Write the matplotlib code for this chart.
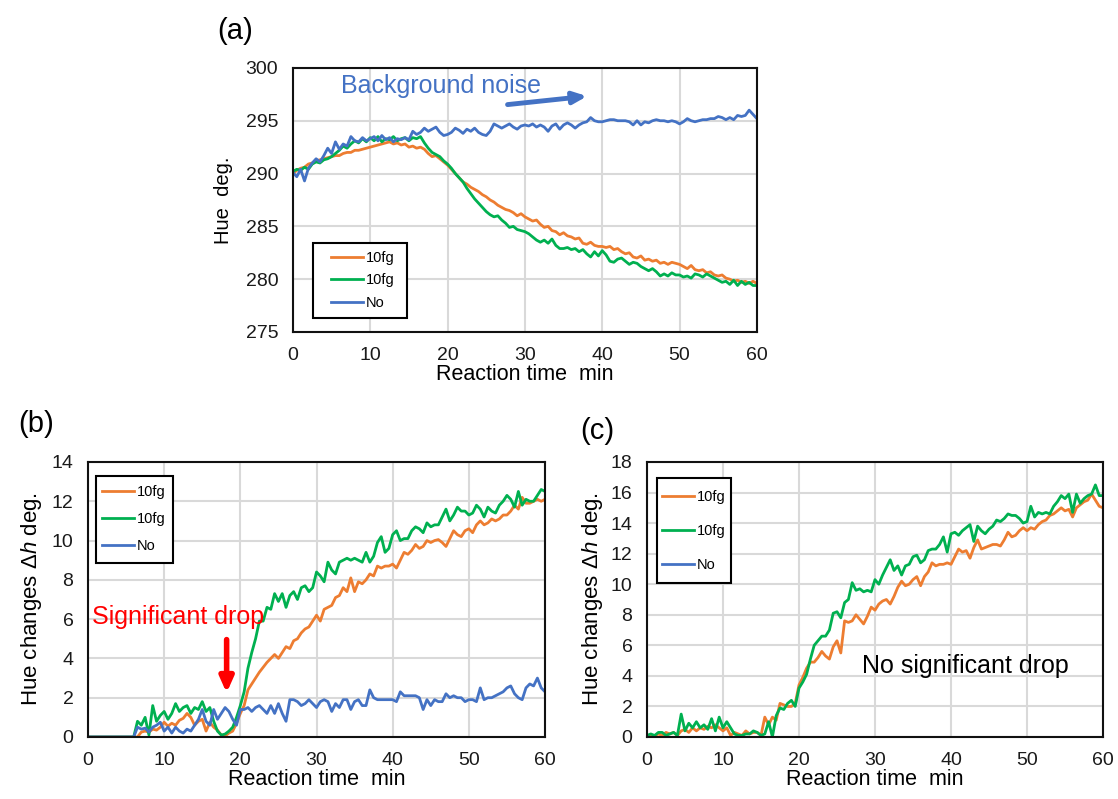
import numpy as np
import matplotlib
matplotlib.use("Agg")
import matplotlib.pyplot as plt
from matplotlib.patches import Rectangle

plt.rcParams['font.family'] = ['Liberation Sans', 'DejaVu Sans']
plt.rcParams['mathtext.fontset'] = 'custom'
plt.rcParams['mathtext.it'] = 'Liberation Sans:italic'
plt.rcParams['mathtext.rm'] = 'Liberation Sans'

t = np.arange(0, 60.5, 0.5)

# (a) raw hue
a_o = [290.0, 290.3, 290.5, 290.6, 290.9, 291.0, 291.2, 291.3, 291.4, 291.5,
       291.6, 291.7, 291.7, 291.9, 292.0, 292.0, 292.2, 292.2, 292.3, 292.4,
       292.5, 292.6, 292.7, 292.8, 292.9, 293.0, 292.8, 292.9, 292.7, 292.8,
       292.5, 292.6, 292.4, 292.5, 292.3, 291.9, 291.6, 291.7, 291.4, 291.1,
       290.8, 290.4, 290.0, 289.6, 289.2, 289.0, 288.7, 288.5, 288.3, 288.0,
       287.8, 287.5, 287.3, 287.0, 286.8, 286.6, 286.5, 286.3, 286.0, 286.2,
       285.9, 285.7, 285.5, 285.6, 285.2, 284.9, 285.0, 284.6, 284.5, 284.2,
       284.4, 284.1, 284.0, 283.8, 283.9, 283.4, 283.3, 283.5, 283.2, 283.1,
       283.1, 283.0, 283.1, 282.8, 282.9, 282.6, 282.4, 282.5, 282.1, 282.0,
       282.2, 281.8, 281.9, 281.7, 281.8, 281.5, 281.6, 281.4, 281.6, 281.5,
       281.4, 281.2, 281.0, 281.3, 280.9, 280.8, 280.9, 280.6, 280.7, 280.4,
       280.3, 280.4, 280.1, 280.0, 279.8, 279.9, 279.7, 279.8, 279.6, 279.8,
       279.6]
a_g = [290.2, 290.4, 290.3, 290.6, 290.4, 290.9, 291.1, 291.0, 291.3, 291.4,
       291.6, 291.9, 292.2, 292.6, 292.4, 292.8, 293.1, 292.9, 293.3, 293.0,
       293.4, 293.1, 293.5, 293.0, 293.3, 293.2, 293.5, 293.1, 293.3, 293.4,
       293.1, 293.4, 293.3, 293.5, 292.9, 292.4, 292.0, 291.8, 291.6, 291.2,
       290.9, 290.5, 290.0, 289.6, 289.2, 288.6, 288.1, 287.6, 287.2, 286.8,
       286.4, 286.1, 285.9, 286.0, 285.6, 285.3, 284.9, 285.0, 284.7, 284.6,
       284.5, 284.3, 284.0, 283.7, 283.5, 283.7, 283.4, 283.8, 283.2, 282.9,
       282.9, 283.0, 282.8, 282.9, 282.6, 282.8, 282.4, 282.1, 282.6, 282.2,
       282.7, 282.3, 281.7, 281.6, 281.9, 282.0, 281.7, 281.4, 281.6, 281.5,
       281.2, 281.0, 280.8, 281.0, 280.7, 280.3, 280.5, 280.3, 280.6, 280.4,
       280.4, 280.2, 280.3, 280.1, 280.5, 280.4, 280.2, 280.5, 280.3, 280.1,
       279.9, 279.7, 279.8, 279.5, 279.9, 279.4, 279.8, 279.5, 279.7, 279.4,
       279.4]
a_b = [290.1, 289.7, 290.4, 289.3, 290.5, 291.0, 291.4, 291.1, 291.7, 292.4,
       291.9, 293.0, 292.3, 292.8, 292.6, 293.5, 293.1, 293.0, 293.4, 293.1,
       293.3, 293.5, 293.1, 293.6, 293.2, 293.4, 293.0, 293.3, 293.2, 293.4,
       293.2, 294.0, 293.7, 293.9, 294.3, 294.0, 294.2, 294.4, 293.9, 293.6,
       293.7, 293.9, 294.3, 294.1, 293.8, 294.2, 294.0, 294.3, 293.9, 293.7,
       293.6, 294.0, 294.7, 294.5, 294.3, 294.5, 294.7, 294.4, 294.2, 294.5,
       294.6, 294.5, 294.7, 294.4, 294.6, 294.4, 294.0, 294.5, 294.7, 294.2,
       294.6, 294.8, 294.6, 294.3, 294.6, 294.8, 294.9, 295.3, 295.0, 294.9,
       294.9, 295.0, 295.1, 295.1, 295.0, 295.0, 295.0, 294.9, 294.6, 295.0,
       294.6, 294.9, 294.8, 295.0, 295.1, 295.0, 295.0, 294.9, 295.0, 294.9,
       294.7, 294.9, 295.2, 295.0, 294.9, 295.0, 295.1, 295.1, 295.2, 295.2,
       295.4, 295.3, 295.1, 295.3, 295.1, 295.5, 295.4, 295.5, 296.0, 295.6,
       295.2]

# (b) hue changes
b_o = [0, 0, 0, 0, 0, 0, 0, 0, 0, 0,
       0, 0, 0, 0, 0.25, 0.3, 0.25, 0.4, 0.35, 0.5,
       0.75, 0.55, 0.7, 0.6, 0.85, 0.95, 1.2, 1.0, 0.6, 0.8,
       0.9, 0.3, 0.75, 0.5, 0.35, 0.1, 0.05, 0.2, 0.3, 0.7,
       1.2, 1.6, 2.4, 2.7, 3.0, 3.3, 3.55, 3.8, 4.0, 4.2,
       4.0, 4.3, 4.6, 4.5, 4.9, 5.0, 5.3, 5.5, 5.6, 5.9,
       6.2, 5.9, 6.5, 6.6, 6.7, 7.1, 7.2, 7.6, 7.4, 8.1,
       7.4, 7.9, 7.8, 8.0, 8.3, 8.2, 8.7, 8.6, 8.7, 8.7,
       8.8, 8.6, 9.0, 9.4, 9.3, 9.5, 9.8, 9.6, 9.7, 10.0,
       9.9, 10.0, 10.05, 9.9, 9.7, 10.1, 10.5, 10.3, 10.2, 10.5,
       10.6, 10.4, 10.8, 11.0, 10.8, 10.9, 11.1, 11.0, 11.1, 11.3,
       11.3, 11.5, 11.8, 11.6, 12.2, 11.9, 11.9, 12.0, 12.1, 12.0,
       12.1]
b_g = [0, 0, 0, 0, 0, 0, 0, 0, 0, 0,
       0, 0, 0, 0.8, 0.6, 1.0, 0.1, 1.6, 0.8, 1.1,
       1.3, 0.9, 1.2, 1.7, 1.3, 1.5, 1.6, 1.2, 1.5, 1.4,
       1.8, 1.3, 1.5, 0.8, 0.3, 0.1, 0.15, 0.3, 0.5, 1.0,
       1.6, 2.3, 3.5, 4.3, 5.0, 5.9, 5.9, 6.6, 6.5, 7.3,
       6.9, 7.3, 6.6, 7.2, 7.4, 7.0, 7.6, 7.7, 7.4, 7.6,
       8.4, 8.2, 7.9, 8.9, 8.5, 8.3, 8.9, 9.0, 9.1, 9.0,
       9.1, 9.0, 8.9, 9.4, 8.9, 9.2, 9.9, 10.2, 9.4, 9.6,
       10.3, 10.5, 10.0, 10.1, 10.1, 10.5, 10.7, 10.6, 10.4, 10.9,
       10.7, 10.8, 10.8, 11.2, 11.6, 11.0, 11.3, 11.7, 11.5, 11.5,
       11.3, 11.4, 11.8, 11.6, 11.2, 11.7, 11.5, 11.4, 11.8, 12.0,
       12.3, 12.1, 11.7, 12.5, 11.8, 12.1, 12.0, 12.0, 12.3, 12.6,
       12.5]
b_b = [0, 0, 0, 0, 0, 0, 0, 0, 0, 0,
       0, 0, 0, 0.5, 0.4, 0.45, 0.25, 0.5, 0.6, 0.75,
       0.3, 0.5, 0.2, 0.5, 0.3, 0.2, 0.4, 0.3, 0.6, 0.9,
       1.4, 0.8, 0.6, 1.4, 0.9, 1.2, 1.5, 1.3, 0.9, 0.6,
       1.4, 1.4, 1.5, 1.3, 1.5, 1.6, 1.4, 1.2, 1.6, 1.2,
       1.7, 1.2, 0.8, 1.9, 1.9, 1.8, 1.6, 1.7, 1.9, 1.7,
       1.5, 1.8, 1.9, 1.8, 1.3, 1.7, 1.5, 1.9, 1.9, 1.4,
       1.8, 1.9, 1.6, 1.6, 2.4, 2.0, 1.9, 1.9, 1.9, 1.9,
       1.9, 1.8, 2.3, 2.1, 2.1, 2.1, 2.1, 2.0, 1.4, 1.9,
       1.6, 1.9, 1.8, 1.8, 2.2, 2.0, 2.1, 2.0, 2.0, 1.8,
       1.9, 1.9, 1.8, 2.5, 1.9, 2.0, 2.0, 2.1, 2.2, 2.3,
       2.5, 2.6, 2.2, 2.0, 1.9, 2.5, 2.7, 2.6, 3.0, 2.5,
       2.3]

# (c) hue changes
c_o = [0.05, 0.1, 0.05, 0.2, 0.1, 0.3, 0.2, 0.3, 0.1, 0.4,
       0.5, 0.3, 0.6, 0.4, 0.6, 0.5, 0.7, 0.6, 0.8, 0.6,
       0.4, 0.6, 0.1, 0.3, 0.2, 0.1, 0.4, 0.2, 0.3, 0.3,
       0.1, 1.3, 0.8, 1.3, 1.1, 2.2, 2.1, 2.0, 2.0, 2.2,
       3.4, 3.9, 4.5, 4.9, 4.9, 5.2, 5.6, 5.3, 5.1, 5.9,
       6.3, 5.5, 7.6, 7.5, 7.6, 8.0, 7.7, 7.4, 7.9, 8.5,
       8.3, 8.7, 8.9, 9.0, 8.7, 9.2, 9.8, 10.2, 9.9, 10.0,
       10.3, 10.5, 9.9, 10.5, 10.8, 11.4, 11.2, 11.3, 11.3, 11.4,
       11.3, 11.8, 12.3, 12.1, 12.2, 11.7, 12.4, 12.9, 12.3, 12.4,
       12.5, 12.6, 12.6, 12.5, 12.9, 13.4, 13.1, 13.2, 13.5, 13.7,
       13.5, 13.7, 13.6, 13.9, 14.1, 14.2, 14.5, 14.6, 14.8, 15.0,
       14.8, 14.9, 14.4, 15.0, 15.2, 15.4, 15.5, 15.9, 15.5, 15.1,
       15.0]
c_g = [0.1, 0.2, 0.1, 0.3, 0.3, 0.1, 0.2, 0.3, 0.1, 1.5,
       0.4, 0.9, 0.6, 1.0, 0.6, 0.8, 0.5, 1.2, 0.4, 1.3,
       0.6, 1.0, 0.6, 0.2, 0.1, 0.1, 0.2, 0.2, 0.4, 0.3,
       0.1, 0.2, 1.0, 0.0, 1.4, 1.9, 1.8, 2.2, 2.4, 2.0,
       3.2, 3.6, 4.1, 5.1, 6.0, 6.3, 6.6, 6.6, 7.0, 8.1,
       8.2, 7.8, 8.8, 9.0, 10.1, 9.6, 9.7, 9.5, 9.6, 9.5,
       10.3, 10.0, 10.6, 11.1, 11.6, 10.9, 11.2, 10.6, 11.2, 11.3,
       11.8, 11.9, 11.4, 11.6, 12.2, 12.3, 12.3, 12.6, 13.1, 12.1,
       13.3, 13.4, 13.2, 13.5, 13.7, 13.9, 12.8, 13.8, 13.5, 13.3,
       13.6, 13.8, 14.2, 14.1, 14.3, 14.6, 14.5, 14.5, 14.3, 14.0,
       14.1, 15.1, 14.4, 14.7, 14.6, 14.7, 14.6, 15.1, 15.4, 15.8,
       15.6, 15.9, 14.7, 15.9, 15.3, 15.6, 15.8, 15.9, 16.5, 15.8,
       15.8]
c_b = [0.0] * 121

labels = ['10fg', '10fg', 'No']
colors = ['#ED7D31', '#00B050', '#4472C4']

fig = plt.figure(figsize=(11.18, 7.99), dpi=100)
ax_a = fig.add_axes([0.262, 0.5845, 0.415, 0.3305])
ax_b = fig.add_axes([0.0787, 0.0776, 0.4088, 0.3442])
ax_c = fig.add_axes([0.5787, 0.0776, 0.4079, 0.3442])


def style(ax, ylim, ystep, ylabel, ysize, ypad):
    ax.set_xlim(0, 60)
    ax.set_ylim(*ylim)
    ax.set_xticks(np.arange(0, 61, 10))
    ax.set_yticks(np.arange(ylim[0], ylim[1] + 0.1, ystep))
    ax.grid(True, color='#d9d9d9', linewidth=1.5)
    ax.set_axisbelow(True)
    ax.tick_params(length=0, labelsize=14, pad=10.5, colors='#1a1a1a')
    for s in ax.spines.values():
        s.set_linewidth(1.5)
        s.set_color('#111111')
    ax.set_xlabel('Reaction time  min', fontsize=15.5, labelpad=0)
    ax.set_ylabel(ylabel, fontsize=ysize, labelpad=ypad)


for ax, series in [(ax_a, [a_o, a_g, a_b]), (ax_b, [b_o, b_g, b_b]),
                   (ax_c, [c_o, c_g, c_b])]:
    for y, lab, col in zip(series, labels, colors):
        ax.plot(t, y, color=col, linewidth=2, label=lab)

style(ax_a, (275, 300), 5, 'Hue  deg.', 14.5, 9)
style(ax_b, (0, 14), 2, r'Hue changes $\Delta h$ deg.', 16, 5.5)
style(ax_c, (0, 18), 2, r'Hue changes $\Delta h$ deg.', 16, 4)

# legend boxes: (x0, y0, x1, y1) in axes fraction, content centre, spacing
legend_boxes = [
    (ax_a, (0.043, 0.053, 0.246, 0.337), (0.151, 0.195), 0.62),
    (ax_b, (0.0175, 0.633, 0.186, 0.949), (0.100, 0.793), 0.95),
    (ax_c, (0.022, 0.560, 0.184, 0.942), (0.103, 0.749), 1.45),
]
for ax, (x0, y0, x1, y1), (cx, cy), sp in legend_boxes:
    ax.add_patch(Rectangle((x0, y0), x1 - x0, y1 - y0, transform=ax.transAxes,
                           facecolor='white', edgecolor='black',
                           linewidth=1.5, zorder=5))
    leg = ax.legend(loc='center', bbox_to_anchor=(cx, cy), fontsize=10.5,
                    frameon=False, handlelength=2.2, handletextpad=0.2,
                    labelspacing=sp * 0.95, borderpad=0, borderaxespad=0)
    leg.set_zorder(6)

# annotations
ax_a.text(6.2, 298.3, 'Background noise', color='#4472C4', fontsize=18,
          va='center')
ax_a.annotate('', xy=(38.4, 297.35), xytext=(27.4, 296.5),
              arrowprops=dict(arrowstyle='-|>,head_length=0.8,head_width=0.35',
                              color='#4472C4', lw=3.5))

ax_b.text(0.5, 6.1, 'Significant drop', color='red', fontsize=18,
          va='center')
ax_b.annotate('', xy=(18.2, 2.1), xytext=(18.2, 5.1),
              arrowprops=dict(arrowstyle='-|>,head_length=0.9,head_width=0.4',
                              color='red', lw=4))

ax_c.text(28.3, 4.65, 'No significant drop', color='black', fontsize=18,
          va='center')

fig.text(0.194, 0.961, '(a)', fontsize=21, va='center')
fig.text(0.016, 0.469, '(b)', fontsize=21, va='center')
fig.text(0.519, 0.461, '(c)', fontsize=21, va='center')

fig.savefig('out.png', dpi=100)
